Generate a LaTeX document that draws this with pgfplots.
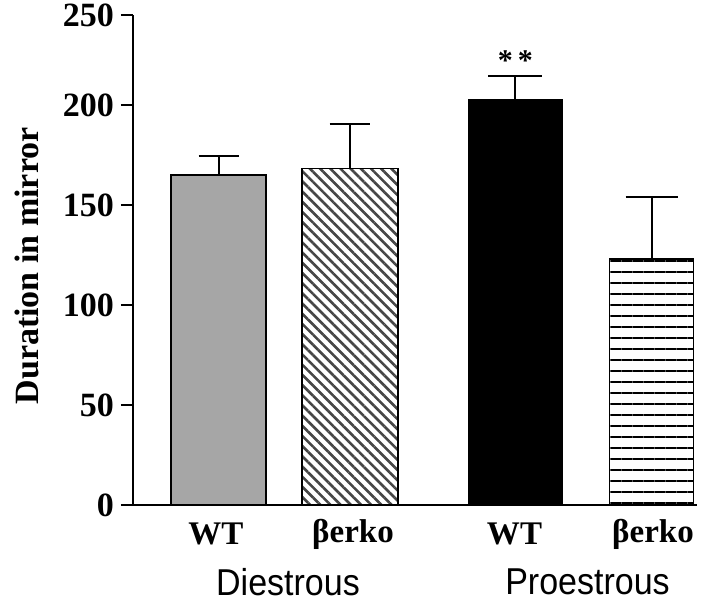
\documentclass[border=0pt]{standalone}
\usepackage{pgfplots}
\pgfplotsset{compat=1.18}
\usepackage{fontspec}
\setmainfont{Liberation Serif}
\newfontfamily\arialfont{Liberation Sans}
\usetikzlibrary{patterns.meta}
\definecolor{bargray}{RGB}{166,166,166}
\definecolor{hatch}{RGB}{70,70,70}
\begin{document}
\begin{tikzpicture}
\useasboundingbox (-66.5pt,-48.5pt) rectangle (289pt,252.5pt);
\begin{axis}[
  name=ax,
  anchor=south west, at={(0,0)},
  scale only axis,
  width=282pt, height=245pt,
  xmin=133, xmax=697,
  ymin=0, ymax=245,
  axis x line=bottom, axis y line=left,
  axis line style={line width=1pt, -},
  ytick={0,50,100,150,200,245},
  yticklabels={0,50,100,150,200,250},
  xtick={216,353,514.5,653},
  xticklabels={WT,βerko,WT,βerko},
  x tick style={draw=none},
  y tick style={line width=1pt, black},
  tick align=outside,
  major tick length=6pt,
  /pgf/number format/assume math mode=true,
  xticklabel style={font=\fontsize{16.5}{19}\selectfont\bfseries, anchor=center, yshift=-8.5pt},
  yticklabel style={font=\fontsize{17}{20}\selectfont\bfseries, anchor=east},
  ylabel={Duration in mirror},
  ylabel style={font=\fontsize{17}{20}\selectfont\bfseries, at={(axis description cs:0,0.488)}, anchor=center, yshift=53pt},
  ybar, bar shift=0pt,
  clip=false,
  error bars/y dir=plus, error bars/y explicit,
  error bars/error bar style={line width=1pt, black},
]
\addplot[fill=bargray, draw=black, line width=0.8pt, bar width=47.5pt,
  error bars/error mark options={black, line width=1pt, mark size=10pt, rotate=90}]
  coordinates {(218.5,165) +- (0,9.5)};
\addplot[fill=white, draw=black, line width=0.8pt, bar width=48pt,
  postaction={pattern={Lines[angle=-45,distance=3.6pt,line width=1.3pt]}, pattern color=hatch},
  error bars/error mark options={black, line width=1pt, mark size=10pt, rotate=90}]
  coordinates {(349.7,168.35) +- (0,22.15)};
\addplot[fill=black, draw=black, line width=0.8pt, bar width=46.5pt,
  error bars/error mark options={black, line width=1pt, mark size=13.5pt, rotate=90}]
  coordinates {(515.3,202.65) +- (0,11.85)};
\addplot[fill=white, draw=black, line width=0.8pt, bar width=42pt,
  postaction={pattern={Lines[angle=0,distance=5.5pt,line width=1.2pt]}, pattern color=black},
  error bars/error mark options={black, line width=1pt, mark size=13pt, rotate=90}]
  coordinates {(651.5,123.15) +- (0,30.7)};
\node[font=\fontsize{15}{18}\selectfont\bfseries] at (axis cs:515.3,222) {*\,*};
\node[font=\arialfont\fontsize{17}{20}\selectfont, yscale=1.1, inner sep=0pt] at (axis cs:288,-38.5) {Diestrous};
\node[font=\arialfont\fontsize{17}{20}\selectfont, yscale=1.1, inner sep=0pt] at (axis cs:587.5,-38.5) {Proestrous};
\end{axis}
\end{tikzpicture}
\end{document}
